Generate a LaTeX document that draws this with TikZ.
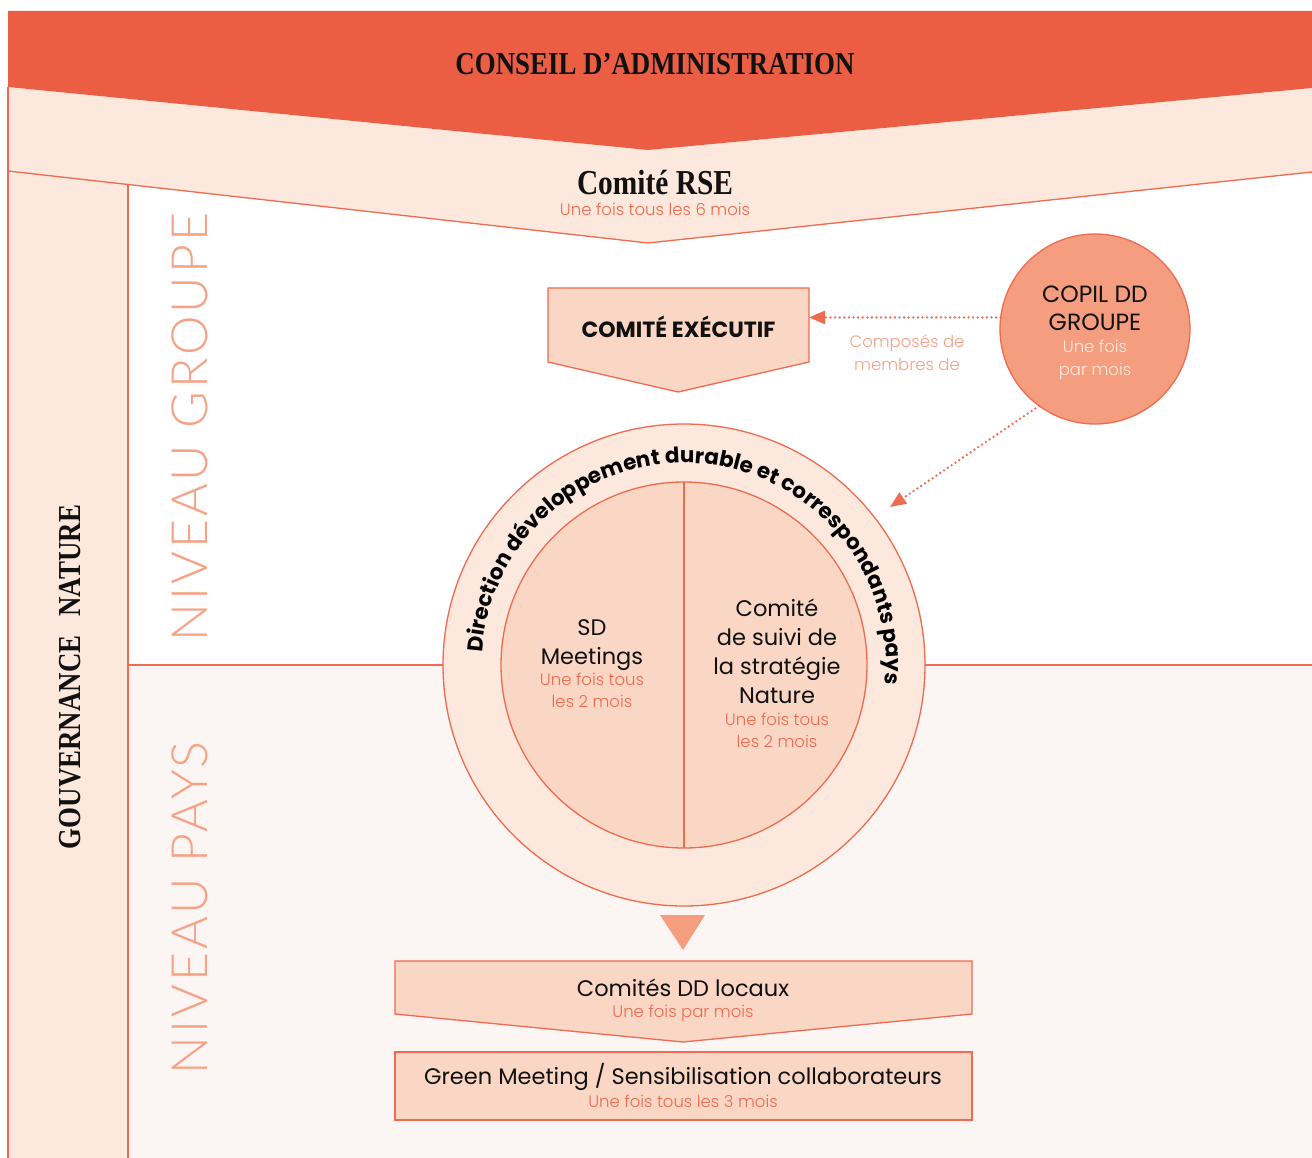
\documentclass[tikz,border=0pt]{standalone}
\usepackage{fontspec}
\setmainfont{Poppins}
\newfontfamily\titlefont[FakeStretch=0.84]{Liberation Serif}
\IfFontExistsTF{Lato Light}
  {\newfontfamily\lightfont[LetterSpace=6]{Lato Light}}
  {\newfontfamily\lightfont[LetterSpace=6]{Lato}}
\IfFontExistsTF{Poppins Light}
  {\newfontfamily\fine{Poppins Light}}
  {\newfontfamily\fine{Poppins}}
\usetikzlibrary{arrows.meta,decorations.text,calc}

\definecolor{rouge}{HTML}{EB5E44}
\definecolor{trait}{HTML}{EE6A50}
\definecolor{peche}{HTML}{FCE8DC}
\definecolor{saumonclair}{HTML}{FAD6C4}
\definecolor{saumon}{HTML}{F49E7F}
\definecolor{fondpays}{HTML}{FBF6F3}
\definecolor{niveau}{HTML}{F5A285}
\definecolor{encre}{HTML}{111111}
\definecolor{blanccasse}{HTML}{FDEBE0}

\newcommand\fs[2]{\fontsize{#1}{#2}\selectfont}
\newcommand\frq[1]{\textcolor{trait}{\fine\fs{16.5}{20}#1}}
\newcommand\courbe{\bfseries\fs{21.5}{21.5}}

\begin{document}
\begin{tikzpicture}[x=1pt,y=-1pt,
  ligne/.style={draw=trait, line width=1.3pt},
  boite/.style={fill=saumonclair, draw=trait, line width=1.3pt},
  txt/.style={inner sep=0pt, outer sep=0pt, text=encre, font=\fs{22.5}{29}},
  titre/.style={inner sep=0pt, text=encre, font=\titlefont\bfseries\fs{32}{32}},
  niv/.style={inner sep=0pt, rotate=90, text=niveau, font=\lightfont\fs{50}{50}},
  pointille/.style={draw=trait, line width=2.6pt, dash pattern=on 0pt off 4.6pt,
    line cap=round, -{Triangle[length=16pt,width=13pt]}}]
\useasboundingbox (0,0) rectangle (1312,1158);
\fill[white] (0,0) rectangle (1312,1158);

% background bands
\fill[peche] (8,87) -- (648,150) -- (1312,88) -- (1312,172) -- (648,243)
  -- (128,184.5) -- (128,1158) -- (8,1158) -- cycle;
\fill[fondpays] (128,665) rectangle (1312,1158);
\fill[rouge] (8,11) -- (1312,11) -- (1312,88) -- (648,150) -- (8,87) -- cycle;
\draw[ligne] (8,171) -- (648,243) -- (1312,172);
\draw[ligne] (8,87) -- (8,1158);
\draw[ligne] (128,184.5) -- (128,1158);
\draw[ligne] (128,665) -- (1312,665);

% headings
\node[titre] (ca) at (655,64) {CONSEIL D’ADMINISTRATION};
\node[titre, anchor=base, font=\titlefont\bfseries\fs{35}{35}] (rse) at (655,195) {Comité RSE};
\node[txt, anchor=base] (rsefreq) at (655,216) {\frq{Une fois tous les 6 mois}};
\node[titre, rotate=90, font=\titlefont\bfseries\fs{32}{32}] (gouv) at (70,677) {GOUVERNANCE\hspace{0.6em}NATURE};
\node[niv] (ngroupe) at (190,427) {NIVEAU GROUPE};
\node[niv] (npays) at (190,908) {NIVEAU PAYS};

% executive committee
\draw[boite] (548,288) -- (809,288) -- (809,362) -- (678,392) -- (548,362) -- cycle;
\node[txt, font=\bfseries\fs{22}{22}, minimum width=261pt, minimum height=74pt] (comex) at (678.5,327) {COMITÉ EXÉCUTIF};

% steering committee
\node[circle, minimum size=190pt, inner sep=0pt, outer sep=0pt, fill=saumon, draw=trait, line width=1.3pt] (copil) at (1095,329) {};
\node[txt, anchor=base, font=\fs{23.5}{28}] (copiltxt) at (1095,303)
  {\begin{tabular}[t]{@{}c@{}}COPIL DD\\GROUPE\\[-6pt]\textcolor{blanccasse}{\fine\fs{16.5}{20}Une fois}\\[-5pt]\textcolor{blanccasse}{\fine\fs{16.5}{20}par mois}\end{tabular}};
\node[txt, anchor=base, text=niveau, font=\fine\fs{16.5}{23}] (compo) at (907,348)
  {\begin{tabular}[t]{@{}c@{}}Composés de\\membres de\end{tabular}};

% central rings
\node[circle, minimum size=482pt, inner sep=0pt, outer sep=0pt, fill=peche, draw=trait, line width=1.3pt] (dd) at (684,665) {};
\node[circle, minimum size=366pt, inner sep=0pt, outer sep=0pt, fill=saumonclair, draw=trait, line width=1.3pt] (coeur) at (684,665) {};
\draw[ligne] (coeur.north) -- (coeur.south);
\path[decorate, decoration={text along path, text align=center,
    text={|\courbe|Direction développement durable et correspondants pays}}]
  ($(dd.center)+(164.5:202)$) arc[start angle=164.5, end angle=384.5, radius=202];

\node[txt, anchor=base] (sd) at (592,635)
  {\begin{tabular}[t]{@{}c@{}}SD\\Meetings\\[-8pt]\frq{Une fois tous}\\[-7pt]\frq{les 2 mois}\end{tabular}};
\node[txt, anchor=base] (suivi) at (777,616)
  {\begin{tabular}[t]{@{}c@{}}Comité\\de suivi de\\la stratégie\\Nature\\[-7pt]\frq{Une fois tous}\\[-7pt]\frq{les 2 mois}\end{tabular}};

% country level
\fill[saumon] (660,915) -- (705,915) -- (683,950) -- cycle;
\draw[boite] (395,961) -- (972,961) -- (972,1014) -- (683,1042) -- (395,1014) -- cycle;
\node[txt, anchor=base] (locaux) at (683,996)
  {\begin{tabular}[t]{@{}c@{}}Comités DD locaux\\[-8pt]\frq{Une fois par mois}\end{tabular}};
\node[boite, rectangle, minimum width=577pt, minimum height=68pt, inner sep=0pt] (green) at (683.5,1086) {};
\node[txt, anchor=base] (greentxt) at (683,1084)
  {\begin{tabular}[t]{@{}c@{}}Green Meeting / Sensibilisation collaborateurs\\[-6pt]\frq{Une fois tous les 3 mois}\end{tabular}};

% links
\coordinate (ddcible) at (890,507);
\draw[pointille] (copil.173) -- (copil.173 -| comex.east);
\draw[pointille] (copil.234) -- (ddcible);
\end{tikzpicture}
\end{document}
